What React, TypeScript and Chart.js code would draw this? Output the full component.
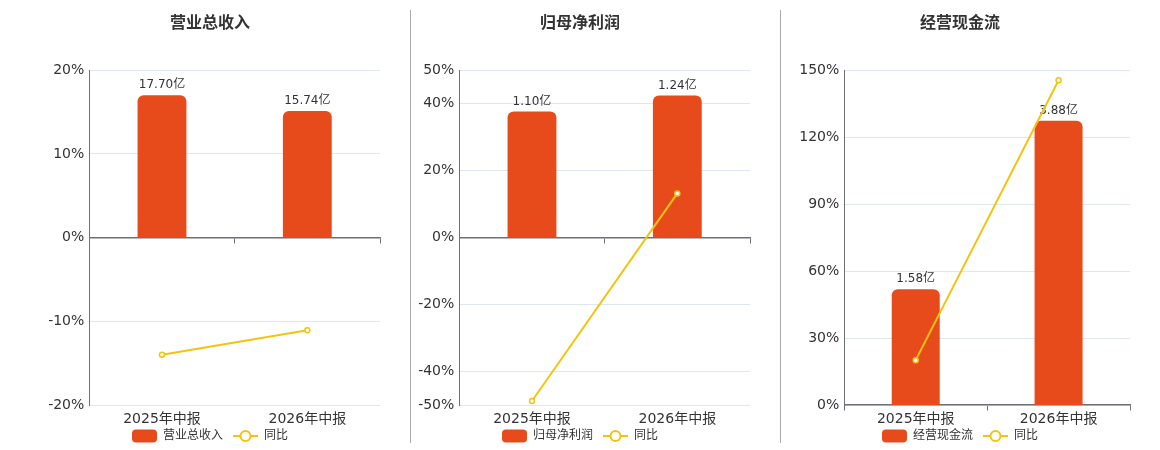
// @ts-nocheck
import {useEffect, useRef} from "react";
import {Chart, registerables} from "chart.js";

Chart.register(...registerables);
Chart.defaults.font.family = '"DejaVu Sans", "Noto Sans CJK SC", sans-serif';

const categories = ["2025年中报", "2026年中报"];

const revenue = [17.70, 15.74];
const revenueYoy = [-14.0, -11.07];
const revenueTicks = [-20, -10, 0, 10, 20];

const profit = [1.10, 1.24];
const profitYoy = [-48.8, 13.2];
const profitTicks = [-50, -40, -20, 0, 20, 40, 50];

const cashFlow = [1.58, 3.88];
const cashFlowYoy = [20.1, 145.5];
const cashFlowTicks = [0, 30, 60, 90, 120, 150];

const BAR = "#E84B1B";
const LINE = "#F2C40F";
const AXIS = "#6E7079";
const GRID = "#E0E6F1";
const TEXT = "#333";

function makeIcon(kind) {
    const c = document.createElement("canvas");
    c.width = 25;
    c.height = 14;
    const ctx = c.getContext("2d");
    if (kind === "bar") {
        ctx.fillStyle = BAR;
        ctx.beginPath();
        ctx.roundRect(0, 0.5, 25, 13, 4);
        ctx.fill();
    } else {
        ctx.strokeStyle = LINE;
        ctx.lineWidth = 2;
        ctx.beginPath();
        ctx.moveTo(0, 7);
        ctx.lineTo(25, 7);
        ctx.stroke();
        ctx.beginPath();
        ctx.arc(12.5, 7, 5, 0, Math.PI * 2);
        ctx.fillStyle = "#fff";
        ctx.fill();
        ctx.stroke();
    }
    return c;
}

// value labels over the bars, drawn before the line so the line sits on top
const barLabels = {
    id: "barLabels",
    afterDatasetDraw(chart, args) {
        if (args.index !== 0) return;
        const ctx = chart.ctx;
        const values = chart.data.datasets[0].data;
        ctx.save();
        ctx.font = '12px "DejaVu Sans", "Noto Sans CJK SC", sans-serif';
        ctx.fillStyle = TEXT;
        ctx.textAlign = "center";
        ctx.textBaseline = "middle";
        args.meta.data.forEach((el, i) => {
            ctx.fillText(values[i].toFixed(2) + "亿", el.x, el.y - 10);
        });
        ctx.restore();
    },
};

function Panel({title, barName, bars, yoy, ticks, barMin, barMax, left, axisWidth}) {
    const chartRef = useRef(null);

    useEffect(() => {
        const barIcon = makeIcon("bar");
        const lineIcon = makeIcon("line");
        const chart = new Chart(chartRef.current.getContext("2d"), {
            type: "bar",
            data: {
                labels: categories,
                datasets: [
                    {
                        type: "bar",
                        label: barName,
                        data: bars,
                        backgroundColor: BAR,
                        borderRadius: {topLeft: 6, topRight: 6, bottomLeft: 0, bottomRight: 0},
                        borderSkipped: false,
                        categoryPercentage: 1,
                        barPercentage: 0.336,
                        xAxisID: "x",
                        yAxisID: "y2",
                        order: 1,
                    },
                    {
                        type: "line",
                        label: "同比",
                        data: yoy,
                        borderColor: LINE,
                        borderWidth: 2,
                        pointRadius: 2.5,
                        pointBackgroundColor: "#fff",
                        pointBorderColor: LINE,
                        pointBorderWidth: 1.5,
                        xAxisID: "x",
                        yAxisID: "y",
                        order: 0,
                    },
                ],
            },
            options: {
                responsive: false,
                animation: false,
                layout: {padding: {left: 0, top: 0, bottom: 0, right: 2}, autoPadding: false},
                scales: {
                    x: {
                        type: "category",
                        grid: {display: false, drawTicks: false},
                        border: {display: false},
                        ticks: {color: TEXT, font: {size: 14}, padding: 6},
                        afterFit: (s) => {
                            // keep the axis short so the legend sits close; let labels overflow it
                            s.height = 15;
                            s._computeLabelArea = () => undefined;
                        },
                    },
                    x2: {
                        type: "category",
                        labels: categories,
                        position: {y: 0},
                        offset: true,
                        grid: {drawOnChartArea: false, drawTicks: true, tickLength: 5, color: AXIS},
                        border: {color: AXIS, width: 1.5},
                        ticks: {display: false},
                    },
                    y: {
                        min: ticks[0],
                        max: ticks[ticks.length - 1],
                        afterBuildTicks: (s) => {
                            s.ticks = ticks.map((v) => ({value: v}));
                        },
                        grid: {color: GRID, drawTicks: false},
                        border: {color: AXIS},
                        ticks: {color: TEXT, font: {size: 14}, padding: 5, callback: (v) => v + "%"},
                        afterFit: (s) => {
                            s.width = axisWidth;
                        },
                    },
                    y2: {display: false, min: barMin, max: barMax},
                },
                plugins: {
                    tooltip: {enabled: false},
                    title: {
                        display: true,
                        text: title,
                        color: TEXT,
                        font: {size: 16, weight: "bold"},
                        padding: {top: 14, bottom: 37},
                    },
                    legend: {
                        position: "bottom",
                        labels: {
                            usePointStyle: true,
                            pointStyleWidth: 25,
                            padding: 10,
                            color: TEXT,
                            font: {size: 12},
                            generateLabels: () => [
                                {text: barName, pointStyle: barIcon, datasetIndex: 0, fontColor: TEXT, lineWidth: 0},
                                {text: "同比", pointStyle: lineIcon, datasetIndex: 1, fontColor: TEXT, lineWidth: 0},
                            ],
                        },
                    },
                },
            },
            plugins: [barLabels],
        });
        return () => {
            chart.destroy();
        };
    }, []);

    return (
        <canvas
            ref={chartRef}
            width={342}
            height={452}
            style={{position: "absolute", left: left, top: 0, width: 342, height: 452}}
        />
    );
}

export default function App() {
    return (
        <div style={{position: "absolute", left: 0, top: 0, width: 1160, height: 450, overflow: "hidden", background: "#fff"}}>
            <Panel title="营业总收入" barName="营业总收入" bars={revenue} yoy={revenueYoy} ticks={revenueTicks}
                   barMin={-20.8} barMax={20.8} left={40} axisWidth={49.3}/>
            <Panel title="归母净利润" barName="归母净利润" bars={profit} yoy={profitYoy} ticks={profitTicks}
                   barMin={-1.46} barMax={1.46} left={410} axisWidth={49.3}/>
            <Panel title="经营现金流" barName="经营现金流" bars={cashFlow} yoy={cashFlowYoy} ticks={cashFlowTicks}
                   barMin={0} barMax={4.57} left={790} axisWidth={54.3}/>
            <div style={{position: "absolute", left: 410, top: 10, width: 1, height: 433, background: "#aaa"}}/>
            <div style={{position: "absolute", left: 780, top: 10, width: 1, height: 433, background: "#aaa"}}/>
        </div>
    );
}
